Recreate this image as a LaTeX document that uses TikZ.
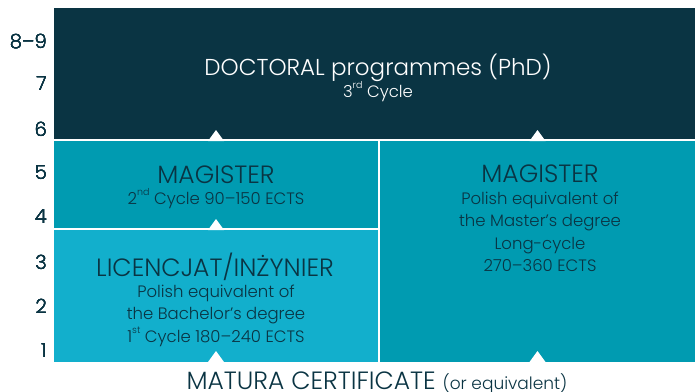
\documentclass[tikz,border=0pt]{standalone}
\usepackage{fontspec}
\setmainfont{Poppins}[UprightFont={* Light}]
\definecolor{fonce}{HTML}{0A3443}
\definecolor{moyen}{HTML}{009BB1}
\definecolor{clair}{HTML}{12AFCC}
\newcommand{\pointe}[1]{\fill[white] (#1) ++(-8,0) -- ++(8,-11) -- ++(8,11) -- cycle;}
\newcommand{\exposant}[1]{\raisebox{0.55em}{\fontsize{9.5}{9.5}\selectfont #1}}

\begin{document}
\begin{tikzpicture}[x=1pt,y=-1pt]
\tikzset{bloc/.style={anchor=north west, inner sep=0pt, outer sep=0pt},
  titre/.style={font=\fontsize{25}{28}\selectfont, text=fonce, inner sep=0pt},
  sous/.style={font=\fontsize{16.5}{22.5}\selectfont, text=fonce, align=center, inner sep=0pt},
  niveau/.style={anchor=east, font=\fontsize{19.5}{20}\selectfont, text=fonce, inner sep=0pt}}
\useasboundingbox (0,0) rectangle (695,391);
% les blocs
\node[bloc, fill=fonce, minimum width=641, minimum height=131] (doc) at (54,8) {};
\node[bloc, fill=moyen, minimum width=324, minimum height=87] (mag) at (54,141) {};
\node[bloc, fill=clair, minimum width=324, minimum height=132] (lic) at (54,230) {};
\node[bloc, fill=moyen, minimum width=315, minimum height=221] (long) at (380,141) {};
\foreach \p in {mag.north, long.north, lic.north, lic.south, long.south}
  \pointe{\p}
% les niveaux
\foreach \n/\y in {8--9/42, 7/84, 6/129, 5/173, 4/217, 3/262, 2/306, 1/351}
  \node[niveau] (n\y) at (47,\y) {\n};
% les textes
\node[titre, text=white, font=\fontsize{23}{26}\selectfont] (doct) at (378,68) {DOCTORAL programmes (PhD)};
\node[sous, text=white] (docs) at (378,92) {3\exposant{rd} Cycle};
\node[titre] (magt) at (216,175) {MAGISTER};
\node[sous] (mags) at (216,199) {2\exposant{nd} Cycle 90--150 ECTS};
\node[titre] (lict) at (215,267) {LICENCJAT/INŻYNIER};
\node[sous] (lics) at (216,315.5) {Polish equivalent of\\the Bachelor’s degree\\1\exposant{st} Cycle 180--240 ECTS};
\node[titre] (longt) at (540,174) {MAGISTER};
\node[sous] (longs) at (540,232) {Polish equivalent of\\the Master’s degree\\Long-cycle\\270--360 ECTS};
\node[titre, anchor=base] (mat) at (377,389) {MATURA CERTIFICATE {\fontsize{17}{17}\selectfont(or equivalent)}};
\end{tikzpicture}
\end{document}
